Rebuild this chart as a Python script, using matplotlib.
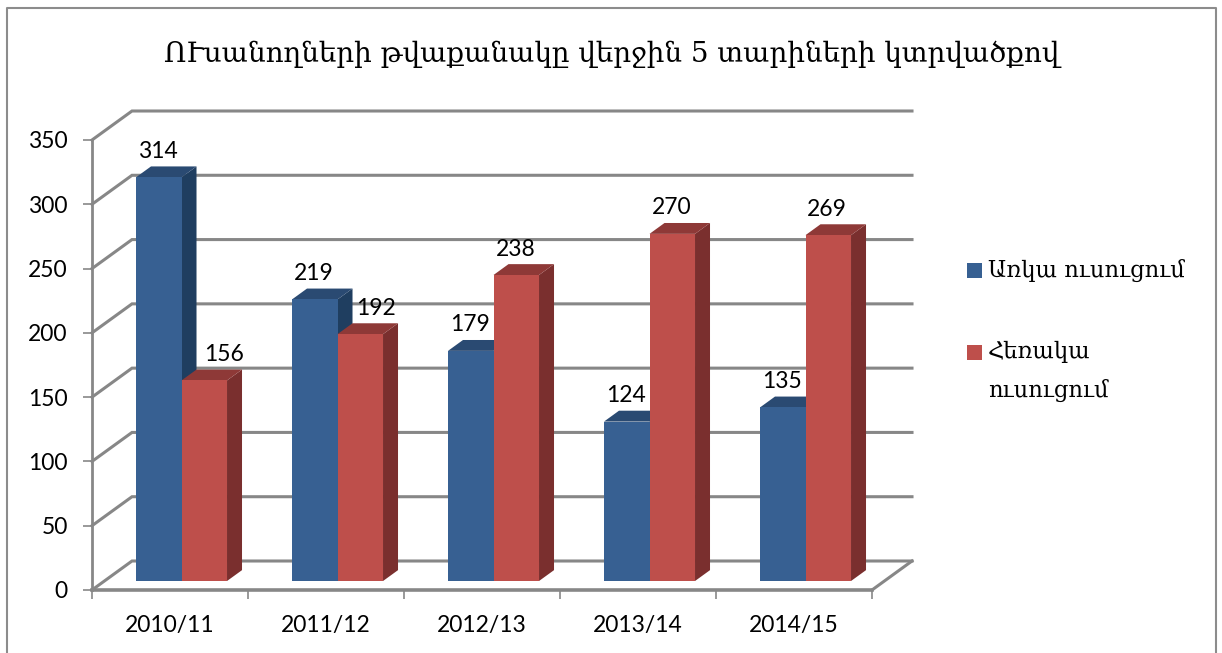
import numpy as np
import matplotlib.pyplot as plt
from matplotlib.patches import Polygon, Rectangle

plt.rcParams['font.family'] = ['Lato', 'DejaVu Sans']

title = 'ՈՒսանողների թվաքանակը վերջին 5 տարիների կտրվածքով'
years = ['2010/11', '2011/12', '2012/13', '2013/14', '2014/15']
full_time = [314, 219, 179, 124, 135]
part_time = [156, 192, 238, 270, 269]
series_names = ['Առկա ուսուցում', 'Հեռակա\nուսուցում']
y_ticks = [0, 50, 100, 150, 200, 250, 300, 350]

W, H = 1222, 653
GREY = '#878787'
BLUE = '#376092'
RED = '#BE4F4B'
ARM = ['DejaVu Serif', 'DejaVu Sans']

# fake 3d: depth 1 is the back wall, offset given in data units
DX = 40 / 156
DY = 29 / (450 / 350)
BAR_D0 = 0.31
BAR_D = 0.375
BAR_W = 0.2917
BAR_OFF = 0.2026


def proj(x, v, d):
    return (x + d * DX, v + d * DY)


fig = plt.figure(figsize=(W / 100, H / 100), dpi=100)
ax = fig.add_axes([92 / W, 1 - 590 / H, 780 / W, 450 / H])
ax.set_xlim(0, len(years))
ax.set_ylim(0, 350)
ax.patch.set_visible(False)

# walls
for v in y_ticks:
    pts = [proj(0, v, 0), proj(0, v, 1), proj(len(years), v, 1)]
    ax.plot(*zip(*pts), color=GREY, lw=2.2, clip_on=False, zorder=1,
            solid_joinstyle='miter')
ax.plot(*zip(proj(len(years), 0, 0), proj(len(years), 0, 1)), color=GREY,
        lw=2.2, clip_on=False, zorder=1)


def draw_bars(values, shift, front, side, top, z):
    lefts = np.arange(len(values)) + BAR_OFF + shift + BAR_D0 * DX
    base = BAR_D0 * DY
    ax.bar(lefts, values, width=BAR_W, bottom=base, align='edge', color=front,
           clip_on=False, zorder=z + 1)
    for left, val in zip(lefts, values):
        xr = left + BAR_W
        ytop = base + val
        dx, dy = BAR_D * DX, BAR_D * DY
        ax.add_patch(Polygon([(xr, base), (xr + dx, base + dy), (xr + dx, ytop + dy), (xr, ytop)],
                             color=side, lw=0, clip_on=False, zorder=z))
        ax.add_patch(Polygon([(left, ytop), (left + dx, ytop + dy), (xr + dx, ytop + dy), (xr, ytop)],
                             color=top, lw=0, clip_on=False, zorder=z))
    return lefts + BAR_W / 2, base


c1, base = draw_bars(full_time, 0, BLUE, '#1F3E60', '#2A4A72', 2)
c2, base = draw_bars(part_time, BAR_W, RED, '#7A2F2E', '#8E3937', 4)

# value labels, two of them were moved by hand in the original
nudge = {(0, 1): 20, (1, 1): 16}
for s, (centers, vals) in enumerate([(c1, full_time), (c2, part_time)]):
    for i, (cx, val) in enumerate(zip(centers, vals)):
        ax.annotate(str(val), (cx, base + val), xytext=(nudge.get((i, s), -1) * 0.72, 26 * 0.72),
                    textcoords='offset points', ha='center', va='center',
                    fontsize=16.5, color='black', zorder=8, annotation_clip=False)

# axes
for name in ['top', 'right']:
    ax.spines[name].set_visible(False)
ax.spines['left'].set_color(GREY)
ax.spines['left'].set_linewidth(2.0)
ax.spines['bottom'].set_color(GREY)
ax.spines['bottom'].set_linewidth(2.6)
ax.set_yticks(y_ticks)
ax.set_xticks(range(len(years) + 1))
ax.set_xticklabels([])
ax.set_xticks(np.arange(len(years)) + 0.5, labels=years, minor=True)
ax.tick_params(axis='y', length=6.5, width=1.2, color=GREY, pad=11, labelsize=16.5)
ax.tick_params(axis='x', which='major', length=6.5, width=1.2, color=GREY)
ax.tick_params(axis='x', which='minor', length=0, pad=18, labelsize=16.5)

fig.text(611.5 / W, 1 - 54 / H, title, family=ARM, fontsize=20, ha='center', va='center')

# legend, drawn by hand because the wrapped entry sits on its first line
fig.add_artist(Rectangle((967 / W, 1 - 278 / H), 15 / W, 15 / H, color=BLUE, lw=0,
                         transform=fig.transFigure))
fig.add_artist(Rectangle((967 / W, 1 - 360 / H), 15 / W, 15 / H, color=RED, lw=0,
                         transform=fig.transFigure))
fig.text(988 / W, 1 - 270 / H, series_names[0], family=ARM, fontsize=16.3, va='center')
fig.text(988 / W, 1 - 353 / H, series_names[1], family=ARM, fontsize=16.3, va='center',
         linespacing=1.85).set_verticalalignment('top')
fig.texts[-1].set_y(1 - 341 / H)

# frame of the pasted chart, the bottom edge is cut off
fx = [7 / W, 7 / W, 1215.5 / W, 1215.5 / W]
fy = [0, 1 - 7.5 / H, 1 - 7.5 / H, 0]
fig.add_artist(plt.Line2D(fx, fy, color='#8C8C8C', lw=1.5))

fig.savefig('out.png', dpi=100)
